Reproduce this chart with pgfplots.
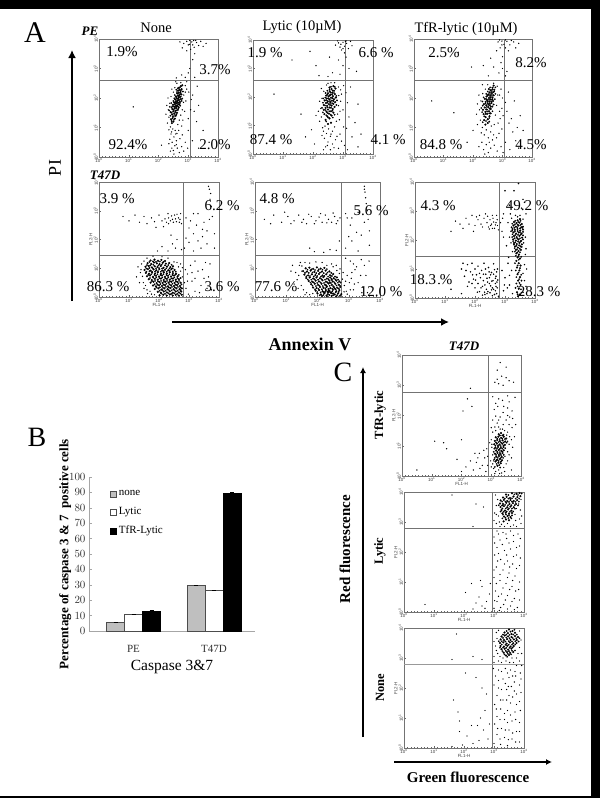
\documentclass[border=0pt]{standalone}
\usepackage{fontspec}
\setmainfont{Liberation Serif}
\setsansfont{Liberation Sans}
\usepackage{pgfplots}
\pgfplotsset{compat=1.18}
\usetikzlibrary{arrows.meta}
\pgfplotsset{
 flow/.style={scale only axis,anchor=south west,xmin=0,xmax=4,ymin=0,ymax=4,
  xtick={0,1,2,3,4},ytick={0,1,2,3,4},
  xticklabels={10\textsuperscript{0},10\textsuperscript{1},10\textsuperscript{2},10\textsuperscript{3},10\textsuperscript{4}},
  yticklabels={10\textsuperscript{0},10\textsuperscript{1},10\textsuperscript{2},10\textsuperscript{3},10\textsuperscript{4}},
  tick pos=left,minor tick num=8,
  major tick length=2pt,minor tick length=1pt,
  tick style={black!60,line width=.3pt},
  axis line style={black!55,line width=.9pt},
  tick label style={font=\fontsize{4.5}{4.5}\sffamily,text=black!75,inner sep=.8pt},
  yticklabel style={rotate=90,anchor=south},
  label style={font=\fontsize{4.5}{4.5}\sffamily,text=black!75},
  xlabel shift=-3pt,ylabel shift=-3pt},
 gate/.style={black!55,line width=.8pt},
 core/.style={only marks,mark=*,mark size=.85pt,mark options={draw=none,fill=black}},
 core2/.style={only marks,mark=*,mark size=.65pt,mark options={draw=none,fill=black!75}},
 dots/.style={only marks,mark=*,mark size=.42pt,mark options={draw=none,fill=black!55}},
 sqleg/.style={legend image code/.code={\draw[##1] (0pt,-3pt) rectangle (6pt,3pt);}}
}
\newcommand\T[4][]{\node[inner sep=0pt,#1] at (#2,#3) {#4};}
\newcommand\pct[3]{\node[inner sep=0pt,font=\fontsize{15}{15}\selectfont] at (#1,#2) {#3};}
\begin{document}
\begin{tikzpicture}
\path[use as bounding box,fill=white] (0pt,0pt) rectangle (600pt,-798pt);
% A1
\begin{axis}[flow,at={(99pt,-157pt)},width=119pt,height=118pt]
\addplot[gate] coordinates {(3.06,0)(3.06,4)};
\addplot[gate] coordinates {(0,2.58)(4,2.58)};
\addplot[core] coordinates {(2.45,1.15)(2.5,1.2)(2.42,1.28)(2.55,1.3)(2.48,1.36)(2.58,1.4)(2.46,1.44)(2.53,1.47)(2.62,1.5)(2.41,1.52)(2.5,1.55)(2.57,1.57)(2.65,1.6)(2.47,1.62)(2.54,1.65)(2.6,1.66)(2.68,1.69)(2.52,1.71)(2.58,1.73)(2.63,1.75)(2.49,1.77)(2.7,1.78)(2.56,1.8)(2.61,1.82)(2.66,1.84)(2.53,1.85)(2.72,1.87)(2.59,1.89)(2.64,1.91)(2.69,1.93)(2.56,1.95)(2.75,1.96)(2.62,1.98)(2.67,2.0)(2.72,2.03)(2.59,2.05)(2.65,2.08)(2.7,2.1)(2.77,2.12)(2.63,2.15)(2.68,2.18)(2.74,2.2)(2.66,2.25)(2.71,2.28)(2.78,2.3)(2.69,2.35)(2.75,2.4)(2.8,2.43)};
\addplot[core2] coordinates {(2.44,1.22)(2.52,1.26)(2.47,1.31)(2.4,1.4)(2.52,1.39)(2.6,1.45)(2.44,1.5)(2.56,1.52)(2.36,1.58)(2.6,1.58)(2.44,1.67)(2.51,1.6)(2.67,1.65)(2.56,1.69)(2.46,1.72)(2.62,1.71)(2.73,1.74)(2.52,1.78)(2.66,1.79)(2.43,1.83)(2.58,1.86)(2.72,1.83)(2.5,1.9)(2.62,1.87)(2.78,1.9)(2.53,1.99)(2.66,1.96)(2.6,2.01)(2.75,2.05)(2.55,2.1)(2.68,2.06)(2.62,2.2)(2.73,2.14)(2.6,2.28)(2.75,2.25)(2.65,2.33)(2.72,2.36)(2.82,2.22)(2.8,1.98)(2.38,1.7)};
\addplot[dots] coordinates {(2.35,1.35)(2.33,1.6)(2.38,1.82)(2.42,2.05)(2.5,2.2)(2.55,2.35)(2.62,2.5)(2.85,2.1)(2.84,1.85)(2.8,1.6)(2.75,1.42)(2.7,1.25)(2.65,1.1)(2.4,1.02)(2.48,.95)(2.56,.9)(2.62,.8)(2.42,.78)(2.52,.68)(2.6,.55)(2.46,.5)(2.55,.38)(2.63,.3)(2.5,.22)(2.72,.62)(2.78,.35)(2.38,.6)(2.9,2.42)(2.95,2.3)(3.02,2.2)(3.1,1.95)(3.2,1.55)(3.28,1.2)(3.0,.9)(3.14,.55)(2.85,.2)(3.35,.3)(2.9,2.7)(2.78,2.78)(3.0,2.85)(3.08,3.65)(3.0,3.8)(3.12,3.9)(3.2,3.72)(3.28,3.88)(3.05,3.95)(3.35,3.78)(3.42,3.92)(3.18,3.95)(2.85,3.85)(2.72,3.9)(3.6,3.85)(1.15,1.7)(2.1,.4)(3.22,2.7)(2.3,1.15)(2.25,1.45)(2.28,1.75)(2.32,2.0)(2.45,2.3)(2.58,2.55)(2.75,2.52)(2.9,2.2)(2.92,1.9)(2.88,1.55)(2.82,1.25)(2.78,1.05)(2.35,.92)(2.44,.85)(2.58,.78)(2.68,.9)(2.35,.45)(2.45,.3)(2.6,.42)(2.7,.15)(2.52,.1)(2.4,.2)(2.8,.75)(2.9,.5)(2.98,.3)(3.0,1.3)(3.08,1.6)(3.15,2.1)(3.3,2.4)(3.35,1.75)(3.5,.9)(3.7,.5)(2.6,2.68)(2.95,2.55)(3.05,3.0)(3.15,3.3)(2.95,3.6)(3.22,3.5)(3.05,3.82)(3.15,3.8)(3.25,3.95)(2.95,3.92)(2.8,3.7)(3.5,3.75)};
\end{axis}
% A2
\begin{axis}[flow,at={(253pt,-154pt)},width=120pt,height=114pt]
\addplot[gate] coordinates {(3.07,0)(3.07,4)};
\addplot[gate] coordinates {(0,2.6)(4,2.6)};
\addplot[core] coordinates {(2.42,1.2)(2.55,1.25)(2.48,1.32)(2.62,1.35)(2.38,1.4)(2.53,1.42)(2.68,1.45)(2.45,1.48)(2.6,1.5)(2.36,1.55)(2.5,1.56)(2.66,1.58)(2.42,1.62)(2.56,1.63)(2.72,1.65)(2.47,1.69)(2.62,1.7)(2.36,1.72)(2.53,1.75)(2.68,1.76)(2.43,1.79)(2.58,1.8)(2.74,1.82)(2.49,1.85)(2.63,1.87)(2.39,1.88)(2.55,1.91)(2.7,1.92)(2.46,1.95)(2.6,1.97)(2.76,1.98)(2.52,2.02)(2.66,2.03)(2.44,2.05)(2.58,2.08)(2.73,2.1)(2.5,2.13)(2.64,2.15)(2.56,2.2)(2.7,2.22)(2.62,2.28)(2.75,2.3)(2.55,2.33)(2.68,2.38)(2.6,1.1)(2.5,1.05)};
\addplot[core2] coordinates {(2.5,1.28)(2.58,1.38)(2.44,1.36)(2.33,1.46)(2.48,1.44)(2.65,1.52)(2.54,1.5)(2.42,1.54)(2.3,1.62)(2.6,1.62)(2.49,1.64)(2.78,1.72)(2.57,1.72)(2.4,1.7)(2.64,1.78)(2.33,1.8)(2.48,1.8)(2.8,1.88)(2.57,1.85)(2.44,1.89)(2.68,1.86)(2.34,1.95)(2.52,1.95)(2.65,1.96)(2.41,1.98)(2.78,2.04)(2.56,2.05)(2.48,2.08)(2.63,2.09)(2.7,2.14)(2.42,2.14)(2.58,2.16)(2.48,2.22)(2.65,2.22)(2.55,2.27)(2.72,2.36)(2.6,2.36)(2.66,1.28)(2.72,1.38)(2.44,1.14)};
\addplot[dots] coordinates {(2.28,1.3)(2.26,1.6)(2.3,1.95)(2.36,2.2)(2.45,2.42)(2.6,2.5)(2.85,2.35)(2.86,2.05)(2.85,1.7)(2.82,1.4)(2.78,1.15)(2.4,.98)(2.52,.88)(2.65,.8)(2.45,.72)(2.58,.62)(2.38,.55)(2.5,.42)(2.65,.35)(2.42,.25)(2.58,.15)(2.75,.5)(2.85,.2)(2.35,.8)(2.95,2.1)(3.02,2.4)(3.15,1.8)(3.2,1.3)(3.12,.9)(3.3,.6)(3.05,.3)(2.9,.7)(3.5,.25)(3.15,.15)(2.9,2.8)(3.0,3.1)(3.2,3.0)(3.1,3.4)(2.95,3.65)(3.05,3.78)(3.12,3.88)(2.85,3.9)(3.0,3.92)(2.75,3.82)(3.18,3.7)(3.25,3.95)(3.1,3.97)(2.93,3.85)(1.9,3.6)(2.1,3.1)(1.3,3.3)(2.2,2.75)(1.95,.85)(1.6,1.4)(0.7,2.1)(3.45,2.9)(3.5,1.75)(2.22,1.15)(2.18,1.5)(2.22,1.85)(2.28,2.3)(2.5,2.48)(2.72,2.5)(2.92,2.25)(2.92,1.85)(2.9,1.5)(2.88,1.2)(2.72,.95)(2.32,.92)(2.6,.7)(2.3,.65)(2.48,.3)(2.7,.22)(2.35,.15)(2.8,.62)(2.95,.45)(3.02,.95)(3.0,1.55)(3.1,2.15)(3.25,2.35)(3.4,1.1)(3.6,.7)(2.5,2.72)(2.65,2.85)(2.85,3.3)(3.05,3.55)(3.0,3.7)(3.08,3.95)(2.9,3.75)(2.82,3.97)(3.3,3.8)(2.55,3.4)(1.75,.6)(2.05,.35)(2.1,1.35)};
\end{axis}
% A3
\begin{axis}[flow,at={(414pt,-157pt)},width=118pt,height=118pt]
\addplot[gate] coordinates {(3.08,0)(3.08,4)};
\addplot[gate] coordinates {(0,2.61)(4,2.61)};
\addplot[core] coordinates {(2.38,1.25)(2.5,1.28)(2.43,1.35)(2.56,1.38)(2.36,1.45)(2.48,1.46)(2.6,1.48)(2.42,1.53)(2.54,1.55)(2.34,1.6)(2.47,1.61)(2.6,1.63)(2.4,1.68)(2.52,1.69)(2.65,1.71)(2.45,1.75)(2.57,1.76)(2.37,1.79)(2.5,1.82)(2.63,1.83)(2.43,1.87)(2.56,1.88)(2.68,1.9)(2.48,1.93)(2.6,1.95)(2.4,1.97)(2.54,2.0)(2.66,2.01)(2.46,2.05)(2.58,2.07)(2.7,2.09)(2.52,2.12)(2.64,2.14)(2.56,2.19)(2.68,2.2)(2.6,2.26)(2.72,2.28)(2.54,2.3)(2.66,2.35)(2.7,2.42)(2.5,1.15)(2.42,1.1)};
\addplot[core2] coordinates {(2.44,1.22)(2.55,1.32)(2.38,1.38)(2.31,1.52)(2.43,1.46)(2.55,1.48)(2.48,1.54)(2.66,1.55)(2.28,1.66)(2.56,1.64)(2.44,1.62)(2.47,1.7)(2.6,1.7)(2.33,1.74)(2.52,1.77)(2.7,1.78)(2.42,1.81)(2.57,1.82)(2.32,1.88)(2.5,1.88)(2.62,1.89)(2.74,1.96)(2.46,1.96)(2.54,1.94)(2.66,1.95)(2.36,2.02)(2.6,2.01)(2.5,2.08)(2.64,2.07)(2.76,2.14)(2.58,2.13)(2.45,2.14)(2.62,2.2)(2.5,2.22)(2.72,2.22)(2.65,2.28)(2.58,2.36)(2.76,2.36)(2.55,1.2)(2.33,1.18)};
\addplot[dots] coordinates {(2.25,1.25)(2.22,1.6)(2.27,1.9)(2.33,2.15)(2.42,2.3)(2.5,2.45)(2.82,2.4)(2.84,2.1)(2.8,1.75)(2.76,1.42)(2.72,1.1)(2.32,1.0)(2.45,.92)(2.6,.85)(2.38,.75)(2.52,.65)(2.66,.58)(2.3,.5)(2.45,.42)(2.6,.3)(2.36,.25)(2.52,.15)(2.72,.4)(2.82,.2)(2.88,.8)(2.92,1.3)(2.98,1.65)(3.0,2.0)(2.95,2.3)(3.15,1.55)(3.22,1.15)(3.35,.85)(3.1,.5)(3.25,.25)(2.95,.35)(3.45,.55)(3.6,1.4)(2.88,2.85)(2.7,3.05)(3.0,3.0)(3.15,2.9)(2.35,3.1)(1.95,3.05)(2.6,3.35)(3.0,3.4)(3.2,3.6)(2.92,3.7)(3.05,3.82)(2.98,3.93)(3.15,3.92)(3.25,3.8)(3.38,3.9)(3.55,3.85)(2.85,3.9)(3.1,3.97)(1.5,3.55)(0.6,1.9)(1.35,1.5)(2.0,.9)(1.8,.5)(2.15,1.1)(2.12,1.45)(2.15,1.8)(2.2,2.1)(2.32,2.45)(2.7,2.5)(2.9,2.1)(2.9,1.55)(2.85,1.15)(2.62,1.05)(2.28,.82)(2.55,.5)(2.2,.35)(2.4,.1)(2.7,.75)(2.98,.95)(3.02,1.4)(3.1,1.85)(3.2,2.2)(3.4,1.9)(3.3,1.3)(3.5,1.0)(3.7,.9)(3.55,.3)(3.02,.15)(2.8,.65)(2.52,2.75)(3.1,2.75)(2.95,3.2)(2.8,3.6)(2.98,3.8)(3.1,3.7)(2.9,3.97)(3.45,3.7)(3.3,3.95)};
\end{axis}
% A4
\begin{axis}[flow,at={(99pt,-297pt)},width=120pt,height=115pt,xlabel={FL1-H},ylabel={FL2-H}]
\addplot[gate] coordinates {(2.8,0)(2.8,4)};
\addplot[gate] coordinates {(0,1.46)(4,1.46)};
\addplot[core] coordinates {(1.72,1.27)(1.85,1.3)(1.97,1.26)(2.08,1.29)(2.2,1.25)(1.62,1.18)(1.74,1.15)(1.83,1.2)(1.93,1.17)(2.02,1.14)(2.12,1.19)(2.23,1.16)(2.34,1.18)(1.55,1.05)(1.66,1.08)(1.76,1.03)(1.86,1.07)(1.95,1.04)(2.06,1.08)(2.15,1.02)(2.27,1.06)(2.38,1.04)(2.47,1.07)(1.52,.94)(1.63,.97)(1.72,.92)(1.82,.96)(1.91,.93)(2.01,.97)(2.11,.92)(2.2,.95)(2.31,.93)(2.41,.97)(2.52,.94)(1.56,.84)(1.67,.81)(1.77,.85)(1.87,.82)(1.96,.86)(2.07,.81)(2.16,.85)(2.26,.82)(2.36,.86)(2.46,.83)(2.57,.81)(1.6,.72)(1.7,.75)(1.8,.7)(1.9,.74)(2.0,.71)(2.1,.75)(2.2,.7)(2.3,.74)(2.4,.71)(2.5,.75)(2.62,.72)(1.66,.62)(1.76,.59)(1.86,.63)(1.96,.6)(2.06,.64)(2.16,.59)(2.26,.63)(2.36,.6)(2.46,.64)(2.56,.6)(2.66,.62)(1.72,.5)(1.82,.53)(1.92,.48)(2.02,.52)(2.12,.49)(2.22,.53)(2.32,.5)(2.42,.53)(2.52,.49)(2.62,.52)(2.72,.5)(1.8,.4)(1.9,.37)(2.0,.41)(2.1,.38)(2.2,.42)(2.3,.37)(2.4,.41)(2.5,.38)(2.6,.42)(2.7,.38)(1.86,.28)(1.98,.3)(2.08,.26)(2.18,.3)(2.28,.27)(2.38,.31)(2.48,.27)(2.58,.3)(2.68,.27)(2.76,.3)(1.96,.18)(2.06,.15)(2.16,.19)(2.26,.16)(2.36,.2)(2.46,.15)(2.56,.19)(2.66,.16)(2.74,.19)(2.02,.06)(2.14,.08)(2.26,.05)(2.36,.09)(2.46,.05)(2.56,.08)(2.66,.05)(2.76,.08)};
\addplot[core2] coordinates {(1.68,1.22)(1.8,1.24)(1.9,1.22)(2.03,1.23)(2.15,1.22)(1.6,1.11)(1.71,1.1)(1.81,1.12)(1.98,1.1)(2.09,1.12)(2.2,1.1)(2.31,1.11)(2.42,1.12)(1.58,.99)(1.68,1.01)(1.8,.99)(1.9,1.0)(2.0,1.01)(2.1,.99)(2.24,1.0)(2.35,.99)(2.46,1.0)(1.58,.88)(1.68,.9)(1.77,.88)(1.87,.89)(1.97,.9)(2.06,.88)(2.16,.9)(2.26,.88)(2.36,.91)(2.46,.89)(2.56,.88)(1.64,.77)(1.74,.79)(1.85,.77)(1.95,.79)(2.05,.77)(2.15,.79)(2.25,.77)(2.35,.79)(2.45,.77)(2.55,.78)(2.66,.77)(1.7,.66)(1.81,.67)(1.91,.68)(2.01,.66)(2.11,.68)(2.21,.65)(2.31,.68)(2.41,.65)(2.51,.68)(2.61,.66)(2.72,.66)(1.77,.55)(1.87,.56)(1.97,.54)(2.07,.56)(2.17,.53)(2.27,.56)(2.37,.54)(2.47,.57)(2.57,.54)(2.67,.56)(1.85,.44)(1.95,.43)(2.05,.45)(2.15,.43)(2.25,.46)(2.35,.44)(2.45,.46)(2.55,.43)(2.65,.46)(2.75,.44)(1.92,.33)(2.03,.34)(2.13,.32)(2.23,.35)(2.33,.33)(2.43,.35)(2.53,.33)(2.63,.35)(2.72,.33)(2.02,.22)(2.12,.24)(2.22,.22)(2.32,.25)(2.42,.23)(2.52,.24)(2.62,.22)(2.72,.24)(2.08,.12)(2.2,.11)(2.31,.13)(2.41,.11)(2.51,.13)(2.61,.11)(2.71,.12)};
\addplot[dots] coordinates {(1.3,1.05)(1.38,.85)(1.42,1.15)(1.45,.72)(1.48,.5)(1.55,.4)(1.6,.25)(1.7,.2)(1.75,.1)(1.85,.08)(1.5,1.25)(1.6,1.35)(1.8,1.42)(2.1,1.4)(2.3,1.35)(2.5,1.22)(2.65,1.05)(2.72,.9)(2.78,.7)(2.85,.5)(2.9,.3)(2.95,.8)(3.05,1.1)(3.1,.55)(3.2,.2)(3.3,.9)(3.4,.4)(3.55,1.2)(3.65,.7)(3.75,.25)(1.95,1.6)(2.1,1.75)(2.3,1.6)(2.55,1.7)(2.85,1.7)(3.0,1.9)(3.15,1.6)(3.3,1.95)(3.45,2.1)(3.0,2.4)(3.25,2.5)(3.6,2.3)(0.8,2.8)(1.0,2.65)(1.2,2.85)(1.35,2.6)(1.5,2.8)(1.6,2.55)(1.75,2.75)(1.85,2.62)(2.0,2.85)(2.1,2.65)(2.2,2.72)(2.25,2.6)(2.32,2.75)(2.38,2.65)(2.45,2.7)(2.52,2.85)(2.58,2.62)(2.65,2.75)(2.72,2.9)(2.75,2.55)(2.9,2.75)(3.05,2.65)(3.3,2.9)(3.5,2.6)(3.72,3.6)(3.7,3.4)(3.74,3.15)(3.78,2.8)(3.85,2.2)(3.85,1.7)(3.68,3.75)(3.65,3.85)(1.25,.7)(1.35,.5)(1.4,.95)(1.5,.3)(1.62,.12)(2.6,1.2)(2.72,1.15)(2.78,1.02)(2.88,.95)(2.95,.55)(2.98,.1)(3.1,.85)(3.2,.65)(3.35,.15)(3.5,.65)(3.6,.3)(3.45,.95)(3.2,1.25)(3.7,1.15)(2.75,1.65)(2.6,2.0)(2.4,2.15)(2.45,1.85)(2.9,2.05)(3.15,2.2)(3.4,1.7)(3.6,1.85)(1.9,2.42)(2.15,2.45)(2.3,2.9)(2.42,2.82)(2.48,2.6)(2.55,2.72)(2.6,2.88)(2.68,2.6)(2.7,2.7)(2.32,2.55)(3.15,2.9)(3.45,2.35)(3.68,2.7)};
\end{axis}
% A5
\begin{axis}[flow,at={(255pt,-297pt)},width=125pt,height=115pt,xlabel={FL1-H},ylabel={FL2-H}]
\addplot[gate] coordinates {(2.78,0)(2.78,4)};
\addplot[gate] coordinates {(0,1.46)(4,1.46)};
\addplot[core] coordinates {(1.62,1.0)(1.74,1.02)(1.86,.98)(1.98,1.03)(2.1,.99)(2.22,1.01)(1.54,.9)(1.66,.88)(1.78,.92)(1.9,.87)(2.02,.91)(2.14,.88)(2.26,.92)(2.38,.89)(1.58,.78)(1.7,.75)(1.82,.79)(1.93,.76)(2.05,.8)(2.16,.75)(2.28,.79)(2.4,.76)(2.5,.8)(1.64,.66)(1.75,.68)(1.86,.64)(1.97,.68)(2.08,.65)(2.19,.69)(2.3,.64)(2.41,.68)(2.52,.65)(2.62,.68)(1.72,.56)(1.83,.53)(1.94,.57)(2.05,.54)(2.16,.58)(2.27,.53)(2.38,.57)(2.49,.54)(2.6,.57)(2.7,.54)(1.8,.44)(1.91,.46)(2.02,.42)(2.13,.46)(2.24,.43)(2.35,.47)(2.46,.42)(2.57,.46)(2.68,.43)(1.86,.33)(1.97,.31)(2.08,.35)(2.19,.32)(2.3,.36)(2.41,.31)(2.52,.35)(2.63,.32)(2.73,.35)(1.94,.22)(2.05,.24)(2.16,.2)(2.27,.24)(2.38,.21)(2.49,.25)(2.6,.2)(2.7,.24)(2.0,.12)(2.11,.09)(2.22,.13)(2.33,.1)(2.44,.14)(2.55,.09)(2.66,.13)(2.76,.1)(2.15,.04)(2.3,.03)(2.45,.04)(2.6,.03)(2.72,.04)(2.2,.17)(2.35,.28)(2.42,.16)(2.5,.12)(2.28,.4)(2.4,.5)(2.32,.18)(2.55,.3)(2.45,.62)};
\addplot[core2] coordinates {(1.68,.95)(1.8,.96)(1.92,.94)(2.04,.96)(2.16,.95)(2.3,.97)(1.6,.84)(1.72,.84)(1.84,.85)(1.96,.83)(2.08,.85)(2.2,.83)(2.32,.85)(2.44,.84)(1.64,.72)(1.76,.73)(1.88,.71)(1.99,.73)(2.11,.71)(2.22,.73)(2.34,.71)(2.46,.73)(2.56,.71)(1.69,.61)(1.8,.6)(1.91,.62)(2.02,.6)(2.13,.62)(2.24,.6)(2.35,.62)(2.46,.59)(2.57,.61)(2.66,.6)(1.77,.5)(1.88,.51)(1.99,.49)(2.1,.51)(2.21,.49)(2.32,.51)(2.43,.49)(2.54,.51)(2.65,.5)(2.74,.5)(1.84,.39)(1.95,.38)(2.06,.39)(2.17,.38)(2.28,.34)(2.39,.39)(2.5,.38)(2.61,.4)(2.72,.39)(1.92,.27)(2.03,.28)(2.14,.27)(2.25,.29)(2.36,.24)(2.47,.29)(2.58,.27)(2.68,.29)(1.99,.17)(2.1,.16)(2.25,.18)(2.36,.17)(2.47,.19)(2.58,.16)(2.68,.18)(2.07,.06)(2.19,.07)(2.28,.06)(2.38,.07)(2.5,.06)(2.63,.07)};
\addplot[dots] coordinates {(1.2,1.1)(1.3,.85)(1.35,.6)(1.42,1.1)(1.48,.4)(1.55,.25)(1.65,.15)(1.75,.08)(1.85,.12)(1.45,1.2)(1.6,1.2)(1.75,1.18)(1.95,1.22)(2.15,1.2)(2.3,1.1)(2.5,1.05)(2.62,.92)(2.7,.82)(2.8,.62)(2.86,.4)(2.92,.2)(2.95,.75)(3.02,.5)(3.1,.85)(3.15,.25)(3.25,1.05)(3.3,.5)(3.42,.15)(3.55,.75)(3.65,1.25)(3.72,.35)(1.9,1.58)(2.2,1.55)(2.6,1.62)(2.9,1.7)(3.1,1.95)(3.3,1.6)(3.4,2.15)(3.05,2.5)(3.5,2.6)(0.3,2.7)(0.6,2.85)(.85,2.6)(1.05,2.8)(1.25,2.65)(1.4,2.85)(1.55,2.7)(1.65,2.55)(1.8,2.8)(1.95,2.65)(2.05,2.78)(2.15,2.6)(2.25,2.85)(2.35,2.7)(2.45,2.6)(2.55,2.8)(2.65,2.65)(2.72,2.75)(2.9,2.9)(3.1,2.75)(3.3,2.95)(3.52,3.65)(3.54,3.45)(3.56,3.25)(3.6,3.0)(3.62,2.7)(3.66,2.3)(3.66,1.8)(3.5,3.75)(3.5,3.85)(1.15,.9)(1.25,.45)(1.38,.3)(1.5,.9)(1.5,1.08)(1.4,.75)(1.6,.08)(2.45,1.15)(2.6,1.1)(2.72,.98)(2.82,.85)(2.9,.55)(2.95,.1)(2.85,.18)(3.05,.25)(3.08,.65)(3.18,.45)(3.2,.95)(3.38,.75)(3.45,.35)(3.6,.15)(3.5,1.1)(3.4,1.3)(3.05,1.25)(2.9,1.35)(3.15,1.15)(1.75,1.7)(2.4,1.65)(2.7,1.95)(3.0,2.1)(3.25,2.25)(2.95,2.75)(.5,2.55)(.95,2.95)(1.15,2.55)(1.5,2.6)(1.72,2.88)(1.9,2.55)(2.1,2.9)(2.3,2.58)(2.5,2.92)(2.6,2.55)};
\end{axis}
% A6
\begin{axis}[flow,at={(415pt,-298pt)},width=120pt,height=116pt,xlabel={FL1-H},ylabel={FL2-H}]
\addplot[gate] coordinates {(2.8,0)(2.8,4)};
\addplot[gate] coordinates {(0,1.45)(4,1.45)};
\addplot[core] coordinates {(3.42,2.68)(3.5,2.72)(3.3,2.62)(3.38,2.58)(3.48,2.6)(3.56,2.55)(3.28,2.5)(3.36,2.46)(3.45,2.5)(3.54,2.44)(3.25,2.38)(3.33,2.35)(3.42,2.38)(3.51,2.33)(3.6,2.36)(3.28,2.26)(3.37,2.22)(3.46,2.26)(3.55,2.22)(3.3,2.14)(3.39,2.1)(3.48,2.14)(3.57,2.08)(3.27,2.02)(3.36,1.98)(3.45,2.02)(3.54,1.97)(3.3,1.9)(3.39,1.86)(3.48,1.9)(3.56,1.85)(3.34,1.78)(3.43,1.74)(3.52,1.78)(3.36,1.66)(3.45,1.62)(3.53,1.66)(3.38,1.54)(3.47,1.5)(3.42,1.4)(3.5,1.36)(3.38,1.28)(3.46,1.2)(3.52,1.12)(3.4,1.05)(3.48,.95)(3.42,.82)(3.5,.72)(3.44,.6)(3.52,.45)(3.46,.32)(3.4,.2)(3.5,.12)(3.43,.06)};
\addplot[core2] coordinates {(3.34,2.66)(3.44,2.62)(3.52,2.66)(3.24,2.56)(3.33,2.54)(3.42,2.53)(3.52,2.52)(3.6,2.46)(3.22,2.44)(3.31,2.42)(3.41,2.44)(3.5,2.4)(3.58,2.42)(3.24,2.32)(3.33,2.29)(3.42,2.31)(3.5,2.27)(3.6,2.28)(3.25,2.2)(3.34,2.17)(3.43,2.18)(3.52,2.18)(3.6,2.16)(3.24,2.1)(3.32,2.06)(3.41,2.05)(3.5,2.06)(3.6,2.02)(3.27,1.96)(3.34,1.92)(3.43,1.95)(3.51,1.94)(3.3,1.84)(3.38,1.8)(3.47,1.82)(3.56,1.76)(3.32,1.72)(3.4,1.68)(3.49,1.7)(3.33,1.6)(3.41,1.57)(3.5,1.58)(3.36,1.46)(3.45,1.45)(3.54,1.42)(3.46,1.32)(3.33,1.2)(3.42,1.12)(3.5,1.03)(3.36,.95)(3.45,.88)(3.54,.8)(3.38,.72)(3.47,.65)(3.38,.5)(3.48,.52)(3.42,.4)(3.53,.3)(3.42,.13)(3.35,.35)(3.55,.6)(3.55,.18)};
\addplot[dots,mark size=.55pt] coordinates {(1.55,1.0)(1.65,.75)(1.75,1.15)(1.8,.55)(1.85,.9)(1.9,1.2)(1.95,.65)(2.0,.35)(2.0,1.0)(2.05,.8)(2.1,.5)(2.1,1.1)(2.15,.22)(2.18,.7)(2.22,.95)(2.25,.4)(2.28,.6)(2.3,1.2)(2.33,.12)(2.36,.82)(2.38,.3)(2.42,.55)(2.45,1.05)(2.48,.7)(2.5,.18)(2.52,.42)(2.55,.88)(2.58,.08)(2.6,.6)(2.62,.3)(2.65,.98)(2.68,.5)(2.7,.75)(2.72,.15)(2.74,.35)(2.76,.62)(2.78,.06)(2.62,1.18)(2.4,.15)(2.25,.1)(2.72,.9)(2.55,.28)(2.47,.9)(0.8,.5)(1.2,.3)(1.55,.15)(3.0,3.7)(3.15,3.2)(3.3,3.7)(3.45,3.95)(3.6,3.4)(3.7,2.9)(3.65,3.3)(2.95,2.9)(3.1,2.6)(3.15,2.1)(3.05,1.8)(3.1,1.2)(3.0,.7)(2.95,.25)(3.15,.45)(3.22,.95)(3.25,.15)(3.68,1.5)(3.72,1.0)(3.7,.4)(3.25,1.6)(3.6,.85)(3.6,.2)(3.62,1.9)(3.22,2.75)(3.6,2.72)(3.35,2.85)(3.5,2.85)(3.42,2.8)(1.6,1.2)(1.7,.95)(1.75,.4)(1.9,.5)(1.92,.8)(2.02,.62)(2.08,.2)(2.15,.85)(2.2,.35)(2.28,.82)(2.33,.45)(2.35,1.0)(2.4,.68)(2.43,.22)(2.48,.5)(2.52,.8)(2.56,.58)(2.58,.35)(2.62,.82)(2.65,.12)(2.68,.68)(2.7,.4)(2.73,.55)(2.75,1.0)(2.68,.25)(2.32,.2)(2.9,.95)(2.98,.45)(3.08,.35)(3.15,.78)(3.12,1.4)(3.2,1.9)(3.2,2.3)(3.68,2.1)(3.7,1.7)(3.65,1.15)(3.65,.6)(3.18,2.9)(3.55,3.1)};
\addplot[dots] coordinates {(1.5,2.55)(1.7,2.75)(1.9,2.85)(2.0,2.5)(2.1,2.7)(2.2,2.55)(2.3,2.75)(2.4,2.6)(2.45,2.45)(2.5,2.7)(2.55,2.55)(2.6,2.75)(2.65,2.4)(2.7,2.6)(2.72,2.85)(2.75,2.5)(2.78,2.35)(2.62,2.62)(2.52,2.5)(1.95,2.3)(2.35,2.9)(2.85,2.6)(2.9,2.3)(2.92,2.75)(2.95,2.1)(1.2,2.3)(2.15,2.85)(1.35,2.65)(1.6,2.4)(1.8,2.55)(2.05,2.8)(2.25,2.45)(2.42,2.82)(2.58,2.4)(2.68,2.52)(2.74,2.7)(2.58,2.85)(2.48,2.38)};
\end{axis}
% C1
\begin{axis}[flow,at={(402pt,-476pt)},width=119pt,height=121pt,xlabel={FL1-H},ylabel={FL2-H}]
\addplot[gate] coordinates {(2.92,0)(2.92,4)};
\addplot[gate] coordinates {(0,2.78)(4,2.78)};
\addplot[core] coordinates {(3.25,1.38)(3.33,1.42)(3.41,1.36)(3.15,1.28)(3.24,1.3)(3.33,1.26)(3.42,1.3)(3.5,1.24)(3.12,1.16)(3.2,1.19)(3.29,1.15)(3.38,1.18)(3.47,1.14)(3.1,1.05)(3.19,1.07)(3.28,1.04)(3.37,1.07)(3.46,1.03)(3.14,.94)(3.23,.96)(3.32,.93)(3.41,.96)(3.16,.84)(3.25,.86)(3.34,.83)(3.42,.85)(3.12,.74)(3.21,.76)(3.3,.73)(3.38,.76)(3.17,.64)(3.26,.66)(3.35,.63)(3.2,.54)(3.29,.56)(3.36,.52)(3.14,.48)(3.24,.44)(3.32,.42)(3.21,.34)};
\addplot[core2] coordinates {(3.29,1.34)(3.37,1.34)(3.2,1.24)(3.28,1.22)(3.37,1.24)(3.46,1.22)(3.16,1.11)(3.24,1.12)(3.33,1.1)(3.42,1.11)(3.52,1.1)(3.14,1.0)(3.23,1.01)(3.32,.99)(3.41,1.01)(3.1,.9)(3.19,.9)(3.28,.89)(3.37,.9)(3.47,.92)(3.08,.8)(3.2,.8)(3.29,.79)(3.38,.8)(3.16,.7)(3.25,.7)(3.33,.69)(3.42,.7)(3.12,.6)(3.22,.6)(3.31,.59)(3.4,.6)(3.1,.55)(3.17,.52)(3.25,.5)(3.33,.48)(3.18,.4)(3.27,.36)(3.12,.3)(3.3,.28)};
\addplot[dots] coordinates {(3.0,1.2)(3.02,.95)(3.05,.7)(2.98,.5)(3.05,.4)(3.08,.25)(3.15,.15)(3.25,.2)(3.35,.1)(3.42,.28)(3.5,.4)(3.46,.65)(3.55,.8)(3.6,1.05)(3.62,1.3)(3.55,1.45)(3.45,1.5)(3.3,1.55)(3.15,1.5)(3.05,1.45)(3.68,.6)(3.72,.95)(3.78,1.3)(3.7,1.6)(3.6,1.7)(3.4,1.7)(3.2,1.75)(3.05,1.85)(3.3,1.95)(3.55,2.0)(3.7,2.15)(3.1,2.2)(3.42,2.3)(3.6,2.45)(3.25,2.55)(3.05,2.62)(3.8,2.6)(3.4,3.0)(3.12,3.1)(3.6,3.15)(3.2,3.5)(3.35,3.3)(3.5,3.6)(3.3,3.75)(3.75,3.1)(2.85,.9)(2.78,.6)(2.7,.35)(2.6,.75)(2.5,.45)(2.4,.2)(2.3,.5)(2.15,.3)(2.0,.15)(1.85,.55)(2.0,1.2)(1.5,.9)(1.4,1.1)(1.1,1.15)(2.05,2.15)(2.3,2.9)(2.2,2.55)(2.35,2.3)(.5,.2)(3.02,1.05)(3.08,.5)(3.0,.3)(3.12,.08)(3.28,.08)(3.45,.15)(3.55,.5)(3.6,.7)(3.55,1.15)(3.68,1.2)(3.52,1.35)(3.38,1.55)(3.25,1.62)(3.12,1.62)(3.0,1.6)(3.5,1.85)(3.25,1.85)(3.62,1.95)(3.15,1.98)(3.4,2.1)(3.22,2.3)(3.55,2.25)(3.72,1.9)(3.82,1.7)(3.38,2.5)(3.55,2.65)(3.15,2.4)(2.95,1.1)(2.88,.65)(2.88,.35)(2.75,.85)(2.82,.15)(2.62,.25)(2.55,.6)(2.45,.75)(3.68,.2)(3.2,3.2)(3.5,3.25)(3.25,3.05)};
\end{axis}
% C2
\begin{axis}[flow,at={(404pt,-612pt)},width=120pt,height=120pt,xlabel={FL1-H},ylabel={FL2-H}]
\addplot[gate] coordinates {(2.93,0)(2.93,4)};
\addplot[gate] coordinates {(0,2.8)(4,2.8)};
\addplot[core] coordinates {(3.4,3.92)(3.6,3.96)(3.75,3.94)(3.85,3.97)(3.3,3.82)(3.42,3.84)(3.53,3.8)(3.65,3.85)(3.78,3.83)(3.88,3.86)(3.22,3.72)(3.33,3.74)(3.44,3.7)(3.55,3.73)(3.66,3.7)(3.77,3.73)(3.2,3.62)(3.3,3.6)(3.41,3.64)(3.52,3.6)(3.63,3.63)(3.73,3.6)(3.22,3.5)(3.33,3.53)(3.44,3.49)(3.55,3.52)(3.66,3.49)(3.25,3.4)(3.36,3.38)(3.47,3.42)(3.58,3.38)(3.28,3.29)(3.39,3.31)(3.5,3.28)(3.6,3.3)(3.34,3.18)(3.45,3.2)(3.55,3.17)(3.4,3.08)(3.5,3.06)(3.32,3.02)};
\addplot[core2] coordinates {(3.48,3.9)(3.68,3.92)(3.8,3.9)(3.92,3.95)(3.36,3.78)(3.48,3.78)(3.6,3.79)(3.72,3.78)(3.84,3.78)(3.27,3.68)(3.38,3.68)(3.5,3.67)(3.6,3.68)(3.72,3.67)(3.83,3.68)(3.16,3.56)(3.27,3.55)(3.37,3.57)(3.47,3.56)(3.58,3.56)(3.69,3.56)(3.8,3.55)(3.28,3.45)(3.39,3.45)(3.5,3.46)(3.6,3.45)(3.7,3.44)(3.22,3.35)(3.32,3.34)(3.42,3.35)(3.53,3.34)(3.64,3.35)(3.3,3.24)(3.4,3.25)(3.5,3.23)(3.6,3.22)(3.38,3.14)(3.48,3.13)(3.58,3.12)(3.28,3.12)};
\addplot[dots] coordinates {(3.05,3.9)(3.12,3.75)(3.08,3.55)(3.02,3.3)(3.15,3.2)(3.18,3.0)(3.75,3.45)(3.82,3.6)(3.9,3.75)(3.88,3.4)(3.7,3.25)(3.72,3.05)(3.85,3.1)(3.25,2.92)(3.45,2.95)(3.65,2.9)(3.1,2.7)(3.3,2.65)(3.55,2.7)(3.8,2.6)(3.0,2.5)(3.2,2.4)(3.42,2.45)(3.65,2.35)(3.85,2.2)(3.1,2.15)(3.35,2.05)(3.55,2.1)(3.75,1.9)(3.02,1.9)(3.22,1.75)(3.45,1.7)(3.62,1.6)(3.85,1.55)(3.08,1.5)(3.3,1.4)(3.5,1.3)(3.7,1.2)(3.0,1.15)(3.2,1.05)(3.4,.95)(3.6,.85)(3.82,.75)(3.05,.7)(3.25,.6)(3.45,.55)(3.68,.45)(3.1,.35)(3.32,.25)(3.55,.2)(3.78,.15)(3.0,.12)(3.18,.05)(2.6,.2)(2.75,.35)(2.5,.5)(2.3,.1)(2.05,.65)(2.25,.95)(2.6,.85)(2.4,3.6)(2.65,3.5)(1.6,3.9)(2.3,2.85)(2.55,1.05)(.7,.25)(3.08,3.25)(3.0,3.05)(3.08,2.95)(3.2,2.85)(3.35,2.85)(3.55,2.85)(3.75,2.85)(3.9,2.95)(3.92,3.2)(3.15,2.6)(3.4,2.6)(3.65,2.55)(3.88,2.45)(3.02,2.3)(3.28,2.25)(3.5,2.3)(3.75,2.15)(3.15,1.95)(3.42,1.9)(3.65,1.85)(3.88,1.8)(3.12,1.7)(3.35,1.6)(3.52,1.5)(3.75,1.45)(3.0,1.4)(3.2,1.25)(3.45,1.15)(3.62,1.05)(3.85,1.0)(3.08,.95)(3.3,.8)(3.52,.75)(3.72,.7)(3.15,.52)(3.38,.4)(3.6,.35)(3.85,.4)(3.02,.38)(3.22,.15)(3.45,.1)(3.68,.08)(2.85,.6)(2.7,.12)(2.4,.3)(2.88,.95)};
\end{axis}
% C3
\begin{axis}[flow,at={(404pt,-748pt)},width=120pt,height=120pt,xlabel={FL1-H},ylabel={FL2-H}]
\addplot[gate] coordinates {(2.93,0)(2.93,4)};
\addplot[black!40,line width=1.1pt] coordinates {(0,2.77)(4,2.77)};
\addplot[core] coordinates {(3.5,3.95)(3.62,3.9)(3.35,3.85)(3.46,3.83)(3.58,3.8)(3.7,3.84)(3.25,3.72)(3.36,3.75)(3.47,3.72)(3.58,3.7)(3.7,3.73)(3.8,3.7)(3.22,3.62)(3.33,3.6)(3.44,3.63)(3.55,3.6)(3.66,3.62)(3.76,3.6)(3.2,3.5)(3.31,3.52)(3.42,3.48)(3.53,3.52)(3.64,3.49)(3.75,3.5)(3.22,3.4)(3.33,3.38)(3.44,3.41)(3.55,3.38)(3.66,3.4)(3.25,3.29)(3.36,3.31)(3.47,3.28)(3.58,3.31)(3.32,3.18)(3.43,3.2)(3.54,3.17)(3.64,3.2)(3.4,3.08)(3.5,3.1)};
\addplot[core2] coordinates {(3.42,3.9)(3.55,3.88)(3.68,3.94)(3.3,3.78)(3.41,3.78)(3.52,3.77)(3.64,3.78)(3.76,3.78)(3.3,3.67)(3.41,3.68)(3.52,3.66)(3.62,3.67)(3.74,3.66)(3.85,3.66)(3.16,3.56)(3.26,3.56)(3.38,3.55)(3.49,3.56)(3.6,3.55)(3.71,3.56)(3.82,3.55)(3.26,3.45)(3.38,3.44)(3.49,3.44)(3.6,3.44)(3.71,3.45)(3.2,3.34)(3.3,3.34)(3.41,3.34)(3.52,3.34)(3.62,3.35)(3.28,3.23)(3.39,3.24)(3.5,3.23)(3.6,3.24)(3.7,3.25)(3.35,3.12)(3.46,3.14)(3.57,3.12)(3.44,3.04)};
\addplot[dots] coordinates {(3.08,3.85)(3.15,3.92)(3.1,3.65)(3.05,3.4)(3.12,3.15)(3.2,3.05)(3.85,3.9)(3.9,3.6)(3.85,3.35)(3.8,3.15)(3.75,3.0)(3.6,3.0)(3.3,3.0)(3.15,2.9)(3.4,2.9)(3.65,2.85)(3.85,2.9)(3.0,2.85)(2.98,2.65)(3.15,2.6)(3.38,2.65)(3.55,2.6)(3.7,2.55)(3.88,2.5)(3.05,2.4)(3.3,2.3)(3.5,2.35)(3.68,2.2)(3.85,2.1)(3.0,2.1)(3.15,2.0)(3.42,1.95)(3.58,2.05)(3.5,1.75)(3.75,1.8)(3.1,1.75)(3.3,1.6)(3.55,1.5)(3.85,1.55)(3.02,1.45)(3.22,1.3)(3.45,1.25)(3.7,1.2)(3.1,1.05)(3.35,.95)(3.6,.9)(3.85,.85)(3.02,.8)(3.25,.65)(3.5,.6)(3.75,.55)(3.1,.45)(3.35,.35)(3.6,.3)(3.85,.2)(3.0,.15)(3.22,.12)(3.45,.08)(2.8,.3)(2.65,.6)(2.5,.25)(2.3,.15)(2.1,.4)(1.95,.1)(1.85,.55)(2.55,1.0)(2.7,1.25)(2.75,1.8)(2.6,2.0)(2.4,2.35)(2.05,2.5)(2.3,3.05)(2.6,2.95)(1.6,2.95)(1.75,3.8)(1.65,1.6)(1.8,1.2)(1.85,.9)(1.6,.05)(3.0,3.55)(3.08,3.25)(3.0,3.05)(3.25,2.85)(3.52,2.85)(3.75,2.75)(3.92,2.75)(3.92,3.15)(3.25,2.55)(3.45,2.5)(3.62,2.4)(3.15,2.25)(3.38,2.15)(3.72,2.4)(3.9,2.3)(3.25,1.95)(3.48,2.05)(3.68,1.9)(3.9,1.85)(3.22,1.6)(3.42,1.6)(3.62,1.7)(3.75,1.45)(3.08,1.3)(3.35,1.15)(3.55,1.1)(3.88,1.25)(3.2,.95)(3.45,.85)(3.72,.95)(3.12,.65)(3.38,.6)(3.62,.5)(3.85,.55)(3.2,.3)(3.48,.28)(3.72,.2)(2.85,.8)(2.45,.75)(2.25,.75)};
\end{axis}
% B
\begin{axis}[scale only axis,anchor=south west,at={(89pt,-631pt)},width=166pt,height=154pt,
 ybar=0pt,bar width=18pt,xmin=-0.553,xmax=1.509,ymin=0,ymax=100,
 ytick={0,10,...,100},xtick={0,1},xticklabels={PE,T47D},
 extra x ticks={0.5},extra x tick labels={},
 axis x line*=bottom,axis y line*=left,
 axis line style={black!35,line width=.5pt},
 tick style={black!35,line width=.5pt},
 major tick length=3pt,
 x tick style={draw=none},
 extra x tick style={tick style={black!35}},
 tick label style={font=\fontsize{11}{11}\selectfont,black!80},
 xticklabel style={yshift=-8pt,font=\fontsize{11}{11}\selectfont},
 xlabel={Caspase 3\&7},
 xlabel style={font=\fontsize{15.5}{15.5}\selectfont,yshift=5pt},
 ylabel={Percentage of caspase 3 \& 7\ \ positive cells},
 ylabel style={font=\fontsize{13}{13}\bfseries\selectfont,yshift=-9pt},
 legend style={at={(0.127,0.925)},anchor=north west,draw=none,fill=none,row sep=6pt,
  font=\fontsize{11}{11}\selectfont,inner sep=0pt},
 legend cell align=left]
\addplot[fill=black!25,draw=black!70,line width=.6pt,area legend,sqleg,error bars/.cd,y dir=plus,y explicit] coordinates {(0,5.8)+-(0,.2)(1,29.5)+-(0,.3)};
\addplot[fill=white,draw=black!70,line width=.6pt,area legend,sqleg,error bars/.cd,y dir=plus,y explicit] coordinates {(0,10.7)+-(0,.4)(1,26.5)+-(0,.3)};
\addplot[fill=black,draw=black,line width=.6pt,area legend,sqleg,error bars/.cd,y dir=plus,y explicit] coordinates {(0,12.8)+-(0,.4)(1,89.2)+-(0,.8)};
\legend{none,Lytic,TfR-Lytic}
\end{axis}
\begin{scope}[x=1pt,y=-1pt]
\fill[black] (0,0) rectangle (600,8.5);
\fill[black] (590.5,0) rectangle (600,798);
\fill[black] (0,796) rectangle (600,798);
% A text
\T{35}{33}{\fontsize{30}{30}\selectfont A}
\T{90}{31}{\fontsize{13}{13}\bfseries\itshape\selectfont PE}
\T{156}{28}{\fontsize{14.5}{14.5}\selectfont None}
\T{302}{27}{\fontsize{14.5}{14.5}\selectfont Lytic (10µM)}
\T{466}{29}{\fontsize{14.5}{14.5}\selectfont TfR-lytic (10µM)}
\T{105}{175}{\fontsize{13}{13}\bfseries\itshape\selectfont T47D}
\T[rotate=90]{55}{168}{\fontsize{18}{18}\selectfont PI}
\T{310}{344}{\fontsize{18}{18}\bfseries\selectfont Annexin V}
\pct{122}{52}{1.9\%}\pct{215}{70}{3.7\%}\pct{128}{145}{92.4\%}\pct{215}{145}{2.0\%}
\pct{265}{53}{1.9 \%}\pct{376}{53}{6.6 \%}\pct{271}{140}{87.4 \%}\pct{388}{140}{4.1 \%}
\pct{444}{53}{2.5\%}\pct{531}{63}{8.2\%}\pct{441}{145}{84.8 \%}\pct{531}{145}{4.5\%}
\pct{117}{199}{3.9 \%}\pct{222}{206}{6.2 \%}\pct{108}{287}{86.3 \%}\pct{222}{287}{3.6 \%}
\pct{277}{199}{4.8 \%}\pct{371}{211}{5.6 \%}\pct{276}{287}{77.6 \%}\pct{381}{292}{12.0 \%}
\pct{438}{206}{4.3 \%}\pct{527}{206}{49.2 \%}\pct{431}{280}{18.3 \%}\pct{539}{292}{28.3 \%}
\draw[line width=2.6pt,-{Latex[length=8pt,width=8pt]}] (72,301) -- (72,50);
\draw[line width=2.6pt,-{Latex[length=8pt,width=8pt]}] (172,322) -- (449,322);
% B, C text
\T{37}{437}{\fontsize{28}{28}\selectfont B}
\T{343}{372}{\fontsize{28}{28}\selectfont C}
\T{464}{346}{\fontsize{13}{13}\bfseries\itshape\selectfont T47D}
\T[rotate=90]{380}{415}{\fontsize{12.5}{12.5}\bfseries\selectfont TfR-lytic}
\T[rotate=90]{380}{551}{\fontsize{12.5}{12.5}\bfseries\selectfont Lytic}
\T[rotate=90]{380}{688}{\fontsize{12.5}{12.5}\bfseries\selectfont None}
\T[rotate=90]{345}{549}{\fontsize{15}{15}\bfseries\selectfont Red fluorescence}
\T{468}{777}{\fontsize{15}{15}\bfseries\selectfont Green fluorescence}
\draw[line width=1.8pt,-{Latex[length=6pt,width=6pt]}] (363,737) -- (363,367);
\draw[line width=1.8pt,-{Latex[length=6pt,width=6pt]}] (394,762) -- (552,762);
\end{scope}
\end{tikzpicture}
\end{document}
